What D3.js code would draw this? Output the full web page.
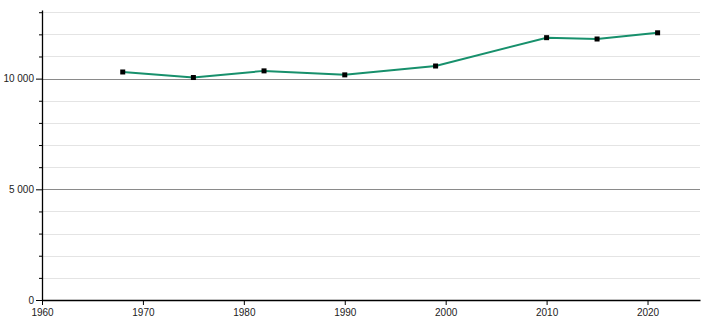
<!DOCTYPE html>
<html>
<head>
<meta charset="utf-8">
<script src="https://cdn.jsdelivr.net/npm/d3@7"></script>
<style>
  body { margin: 0; background: #fff; }
  #c { width: 710px; height: 320px; }
  text { font-family: "Liberation Sans", Arial, sans-serif; }
</style>
</head>
<body>
<div id="c"></div>
<script>
"use strict";

const years = [1968, 1975, 1982, 1990, 1999, 2010, 2015, 2021]
const population = [10300, 10050, 10350, 10170, 10570, 11850, 11790, 12070]
const xTicks = [1960, 1970, 1980, 1990, 2000, 2010, 2020]
const yMajor = [0, 5000, 10000]
const yMinor = [1000, 2000, 3000, 4000, 6000, 7000, 8000, 9000, 11000, 12000, 13000]

const margin = { top: 10, right: 10, bottom: 20, left: 42 }
const width = 710 - margin.left - margin.right
const height = 320 - margin.top - margin.bottom

const fmt = v => d3.format(",")(v).replace(/,/g, " ")

let svg = d3.select('#c')
    .append('svg')
        .attr('width', 710)
        .attr('height', 320)
    .append('g')
        .attr('transform', "translate(" + margin.left + "," + margin.top + ")")

let xScale = d3.scaleLinear()
    .domain([1960, 2025.2])
    .range([0, width])
let yScale = d3.scaleLinear()
    .domain([0, 13100])
    .range([height, 0])

// grid
svg.append('g')
    .selectAll('line')
    .data(yMinor)
    .enter()
    .append('line')
        .attr('x1', 0).attr('x2', width)
        .attr('y1', d => Math.round(yScale(d)) + 0.5)
        .attr('y2', d => Math.round(yScale(d)) + 0.5)
        .attr('stroke', '#e4e4e4')
svg.append('g')
    .selectAll('line')
    .data(yMajor.filter(v => v > 0))
    .enter()
    .append('line')
        .attr('x1', 0).attr('x2', width)
        .attr('y1', d => Math.round(yScale(d)) + 0.5)
        .attr('y2', d => Math.round(yScale(d)) + 0.5)
        .attr('stroke', '#8a8a8a')

// y axis
svg.append('g')
    .call(d3.axisLeft(yScale)
        .tickValues(yMajor).tickSize(6).tickSizeOuter(0).tickPadding(2)
        .tickFormat(fmt))
svg.append('g')
    .call(d3.axisLeft(yScale)
        .tickValues(yMinor).tickSize(3)
        .tickFormat(''))
    .select('.domain').remove()

// x axis
svg.append('g')
    .attr('transform', 'translate(0,' + height + ')')
    .call(d3.axisBottom(xScale)
        .tickValues(xTicks).tickSize(5).tickSizeOuter(0).tickPadding(4)
        .tickFormat(d3.format("d")))

svg.selectAll('.tick text')
    .attr('font-size', '10px')
    .attr('fill', '#222')
svg.selectAll('.domain, .tick line')
    .attr('stroke', '#000')
svg.selectAll('.domain').attr('stroke-width', 1.3)

// line
let data = years.map((y, i) => ({ year: y, value: population[i] }))
svg.append('path')
    .datum(data)
    .attr('fill', 'none')
    .attr('stroke', '#17906c')
    .attr('stroke-width', 2)
    .attr('d', d3.line()
        .x(d => xScale(d.year))
        .y(d => yScale(d.value)))

svg.append('g')
    .selectAll('rect')
    .data(data)
    .enter()
    .append('rect')
        .attr('x', d => xScale(d.year) - 2.5)
        .attr('y', d => yScale(d.value) - 2.5)
        .attr('width', 5)
        .attr('height', 5)
        .attr('fill', '#000')
</script>
</body>
</html>
